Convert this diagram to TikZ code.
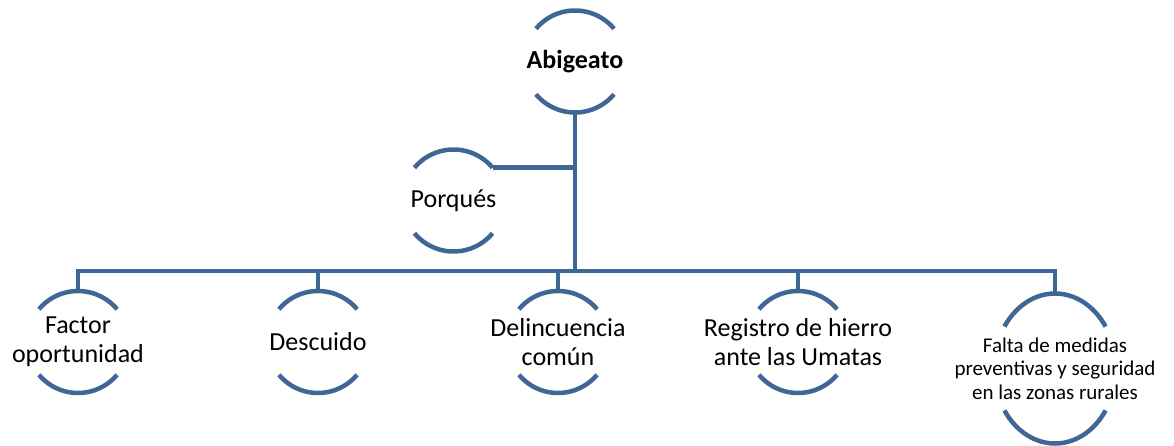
\documentclass[tikz,border=0pt]{standalone}
\usepackage{fontspec}
\setmainfont{Carlito}
\usepackage{tikz}
\usetikzlibrary{calc}
\definecolor{umblue}{RGB}{63,103,150}
\tikzset{
  box/.style={minimum width=102pt, minimum height=102pt, inner sep=0pt, outer sep=0pt, align=center, font=\fontsize{26}{28.5}\selectfont},
  link/.style={draw=umblue, line width=4.5pt},
  bracket/.style={draw=umblue, line width=4.5pt}
}
\newcommand{\bracketpair}[4]{%
  \draw[bracket] ($(#1.center)+(#4:#2 and #3)$) arc[start angle=#4, end angle=180-#4, x radius=#2, y radius=#3];
  \draw[bracket] ($(#1.center)+(180+#4:#2 and #3)$) arc[start angle=180+#4, end angle=360-#4, x radius=#2, y radius=#3];}

\begin{document}
\begin{tikzpicture}[x=1pt, y=1pt]
  \useasboundingbox (0,0) rectangle (1174,-446);
  \node[box, font=\bfseries\fontsize{26}{28.5}\selectfont] (abigeato) at (575,-61.5) {Abigeato};
  \node[box] (porques) at (453.5,-200.5) {Porqués};
  \node[box] (factor) at (78,-342) {Factor\\oportunidad};
  \node[box] (descuido) at (318,-342) {Descuido};
  \node[box] (delincuencia) at (558,-342) {Delincuencia\\común};
  \node[box] (registro) at (798,-342) {Registro de hierro\\ante las Umatas};
  \node[box, minimum width=122pt, minimum height=150pt, font=\fontsize{21}{23.5}\selectfont] (falta) at (1055,-368.5) {Falta de medidas\\preventivas y seguridad\\en las zonas rurales};
  \coordinate (bar) at (575,-271);
  \draw[link] (abigeato.south) -- (bar);
  \draw[link] (abigeato.south) |- ($(porques.center)+(40:51pt)$);
  \draw[link] (factor.north) |- (bar) -| (falta.north);
  \foreach \n in {descuido,delincuencia,registro}
    {\draw[link] (\n.north) -- (\n.north |- bar);}
  \foreach \n in {abigeato,porques,factor,descuido,delincuencia,registro}
    {\bracketpair{\n}{51pt}{51pt}{40}}
  \bracketpair{falta}{61pt}{75pt}{34}
\end{tikzpicture}
\end{document}
